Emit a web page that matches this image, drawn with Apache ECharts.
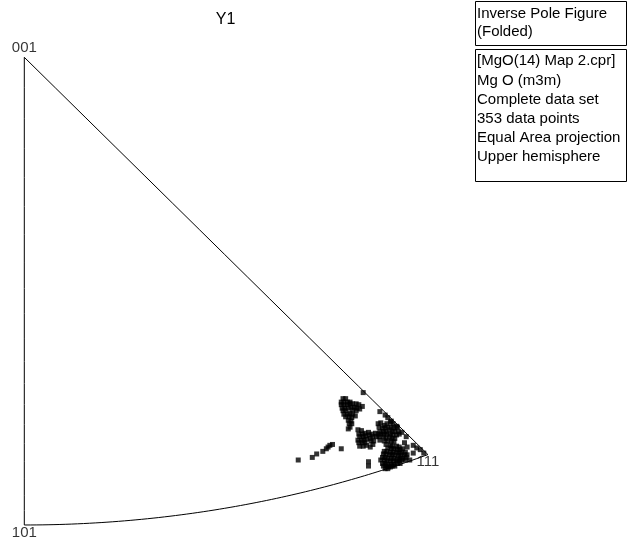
<!DOCTYPE html>
<html>
<head>
<meta charset="utf-8">
<title>Inverse Pole Figure Y1</title>
<script src="https://cdn.jsdelivr.net/npm/echarts@6/dist/echarts.min.js"></script>
<style>
  html, body { margin: 0; padding: 0; background: #ffffff; }
  #chart { width: 632px; height: 542px; }
</style>
</head>
<body>
<div id="chart"></div>
<script>
// Corner directions of the cubic standard triangle and their labels
const poleLabels = ['001', '101', '111'];
const poleDirections = [[0, 0, 1], [1, 0, 1], [1, 1, 1]];

const titleText = 'Y1';
const headerLines = ['Inverse Pole Figure', '(Folded)'];
const infoLines = [
  '[MgO(14) Map 2.cpr]',
  'Mg O (m3m)',
  'Complete data set',
  '353 data points',
  'Equal Area projection',
  'Upper hemisphere'
];

// Projected pole positions [x, y] (equal-area units, 001 at origin, y growing towards 101)
const scatteredPoints = [
  [0.312, 0.466], [0.328, 0.463], [0.333, 0.459], [0.340, 0.456], [0.344, 0.453],
  [0.346, 0.451], [0.348, 0.449], [0.351, 0.448], [0.361, 0.453], [0.392, 0.468],
  [0.392, 0.473], [0.439, 0.466], [0.443, 0.458], [0.436, 0.451], [0.433, 0.446]
];

const edgePoints = [
  [0.386, 0.388], [0.405, 0.410], [0.411, 0.414], [0.414, 0.417], [0.418, 0.421],
  [0.424, 0.427], [0.430, 0.434], [0.435, 0.439], [0.443, 0.449], [0.447, 0.452],
  [0.451, 0.454], [0.455, 0.458]
];

const upperCluster = [
  [0.363, 0.395], [0.366, 0.395], [0.361, 0.399], [0.364, 0.399], [0.368, 0.399],
  [0.371, 0.399], [0.361, 0.402], [0.364, 0.402], [0.368, 0.402], [0.371, 0.401],
  [0.362, 0.406], [0.365, 0.406], [0.369, 0.406], [0.372, 0.405], [0.363, 0.409],
  [0.366, 0.409], [0.374, 0.401], [0.378, 0.401], [0.381, 0.402], [0.385, 0.404],
  [0.376, 0.405], [0.379, 0.406], [0.382, 0.407], [0.374, 0.408], [0.378, 0.409],
  [0.364, 0.413], [0.368, 0.413], [0.371, 0.412], [0.374, 0.413], [0.366, 0.416],
  [0.370, 0.416], [0.373, 0.417], [0.377, 0.415], [0.369, 0.420], [0.372, 0.421],
  [0.370, 0.424], [0.373, 0.424], [0.371, 0.428], [0.369, 0.430]
];

const middleCluster = [
  [0.380, 0.431], [0.384, 0.432], [0.381, 0.436], [0.385, 0.436], [0.388, 0.435],
  [0.392, 0.434], [0.382, 0.439], [0.386, 0.439], [0.389, 0.438], [0.393, 0.437],
  [0.396, 0.436], [0.400, 0.435], [0.380, 0.443], [0.384, 0.443], [0.387, 0.443],
  [0.390, 0.442], [0.394, 0.441], [0.397, 0.439], [0.401, 0.439], [0.381, 0.446],
  [0.385, 0.446], [0.388, 0.446], [0.395, 0.444], [0.398, 0.444], [0.382, 0.450],
  [0.386, 0.450], [0.390, 0.449], [0.394, 0.451], [0.397, 0.448],
  [0.403, 0.424], [0.406, 0.423], [0.410, 0.426], [0.413, 0.424], [0.417, 0.422],
  [0.420, 0.424], [0.404, 0.428], [0.408, 0.429], [0.411, 0.429], [0.414, 0.428],
  [0.418, 0.428], [0.421, 0.429], [0.425, 0.428], [0.405, 0.433], [0.409, 0.433],
  [0.412, 0.433], [0.416, 0.431], [0.419, 0.433], [0.422, 0.433], [0.426, 0.433],
  [0.403, 0.436], [0.406, 0.436], [0.410, 0.436], [0.413, 0.436], [0.417, 0.436],
  [0.420, 0.437], [0.424, 0.437], [0.427, 0.436], [0.404, 0.439], [0.409, 0.439],
  [0.412, 0.441], [0.416, 0.439], [0.419, 0.441], [0.422, 0.441], [0.405, 0.443],
  [0.410, 0.444], [0.414, 0.444], [0.418, 0.444], [0.421, 0.445], [0.412, 0.448],
  [0.417, 0.449]
];

const lowerCluster = [
  [0.419, 0.450], [0.424, 0.450], [0.427, 0.451], [0.414, 0.452], [0.418, 0.453],
  [0.421, 0.453], [0.425, 0.454], [0.428, 0.454], [0.431, 0.453], [0.410, 0.456],
  [0.413, 0.456], [0.417, 0.457], [0.420, 0.457], [0.424, 0.457], [0.427, 0.458],
  [0.430, 0.457], [0.434, 0.457], [0.409, 0.459], [0.412, 0.459], [0.416, 0.460],
  [0.419, 0.460], [0.422, 0.460], [0.426, 0.461], [0.429, 0.460], [0.433, 0.460],
  [0.436, 0.460], [0.408, 0.463], [0.411, 0.463], [0.414, 0.464], [0.418, 0.464],
  [0.421, 0.464], [0.425, 0.465], [0.428, 0.464], [0.431, 0.464], [0.435, 0.463],
  [0.406, 0.466], [0.410, 0.466], [0.413, 0.467], [0.417, 0.467], [0.420, 0.467],
  [0.424, 0.467], [0.427, 0.467], [0.430, 0.466], [0.434, 0.466], [0.408, 0.470],
  [0.411, 0.470], [0.414, 0.471], [0.418, 0.471], [0.421, 0.471], [0.425, 0.470],
  [0.428, 0.470], [0.409, 0.473], [0.412, 0.473], [0.415, 0.474], [0.419, 0.473],
  [0.422, 0.473], [0.411, 0.476], [0.414, 0.476], [0.417, 0.474]
];

// Equal-area (Lambert) projection of a crystal direction onto the triangle frame:
// 001 at the origin, 101 straight down, 111 towards the lower right.
function project(v) {
  const n = Math.hypot(v[0], v[1], v[2]);
  const theta = Math.acos(v[2] / n);
  const r = Math.SQRT2 * Math.sin(theta / 2);
  const phi = Math.atan2(v[1], v[0]);
  return [r * Math.sin(phi), r * Math.cos(phi)];
}

// Boundary of the standard triangle traced along its three great circles
function traceEdge(dirAt, steps) {
  const pts = [];
  for (let i = 0; i <= steps; i++) pts.push(project(dirAt(i / steps)));
  return pts;
}
const boundary = [].concat(
  traceEdge(t => [t, 0, 1], 20),          // 001 -> 101
  traceEdge(t => [1, t, 1], 80),          // 101 -> 111
  traceEdge(t => [1 - t, 1 - t, 1], 20)   // 111 -> 001
);

const chart = echarts.init(document.getElementById('chart'), null, { renderer: 'canvas' });

const pointStyle = {
  type: 'scatter',
  symbol: 'rect',
  symbolSize: 5,
  itemStyle: { color: '#000000' },
  silent: true,
  z: 3
};

const textFont = '"Liberation Sans", Arial, sans-serif';

function boxTexts(lines, firstY, step) {
  return lines.map((s, i) => ({
    type: 'text',
    x: 477,
    y: firstY + i * step,
    style: {
      text: s,
      fill: '#000000',
      font: '15px ' + textFont,
      verticalAlign: 'middle',
      align: 'left'
    }
  }));
}

chart.setOption({
  animation: false,
  backgroundColor: '#ffffff',
  grid: { left: 24.3, top: 57.3, width: 439, height: 475.3, containLabel: false },
  xAxis: { type: 'value', min: 0, max: 0.5, show: false },
  yAxis: { type: 'value', min: 0, max: 0.55, inverse: true, show: false },
  series: [
    {
      type: 'line',
      data: boundary,
      showSymbol: false,
      symbol: 'none',
      lineStyle: { color: '#000000', width: 1 },
      silent: true,
      z: 2
    },
    Object.assign({ data: scatteredPoints }, pointStyle),
    Object.assign({ data: edgePoints }, pointStyle),
    Object.assign({ data: upperCluster }, pointStyle),
    Object.assign({ data: middleCluster }, pointStyle),
    Object.assign({ data: lowerCluster }, pointStyle),
    {
      type: 'scatter',
      symbolSize: 0,
      silent: true,
      data: poleDirections.map((d, i) => ({
        value: project(d),
        label: [
          { position: 'top', distance: 2 },
          { position: 'bottom', distance: 0 },
          { position: 'bottom', distance: 0 }
        ][i]
      })),
      label: {
        show: true,
        formatter: p => poleLabels[p.dataIndex],
        color: '#000000',
        fontSize: 15,
        fontFamily: textFont
      },
      z: 4
    }
  ],
  graphic: [
    {
      type: 'text',
      x: 225.5,
      y: 19.5,
      style: {
        text: titleText,
        fill: '#000000',
        font: '16px ' + textFont,
        align: 'center',
        verticalAlign: 'middle'
      }
    },
    {
      type: 'rect',
      shape: { x: 475.5, y: 1.5, width: 151, height: 44 },
      style: { fill: '#ffffff', stroke: '#000000', lineWidth: 1 }
    },
    {
      type: 'rect',
      shape: { x: 475.5, y: 49.5, width: 151, height: 132 },
      style: { fill: '#ffffff', stroke: '#000000', lineWidth: 1 }
    }
  ].concat(boxTexts(headerLines, 13.8, 18.5), boxTexts(infoLines, 61.2, 19.2))
});
</script>
</body>
</html>
